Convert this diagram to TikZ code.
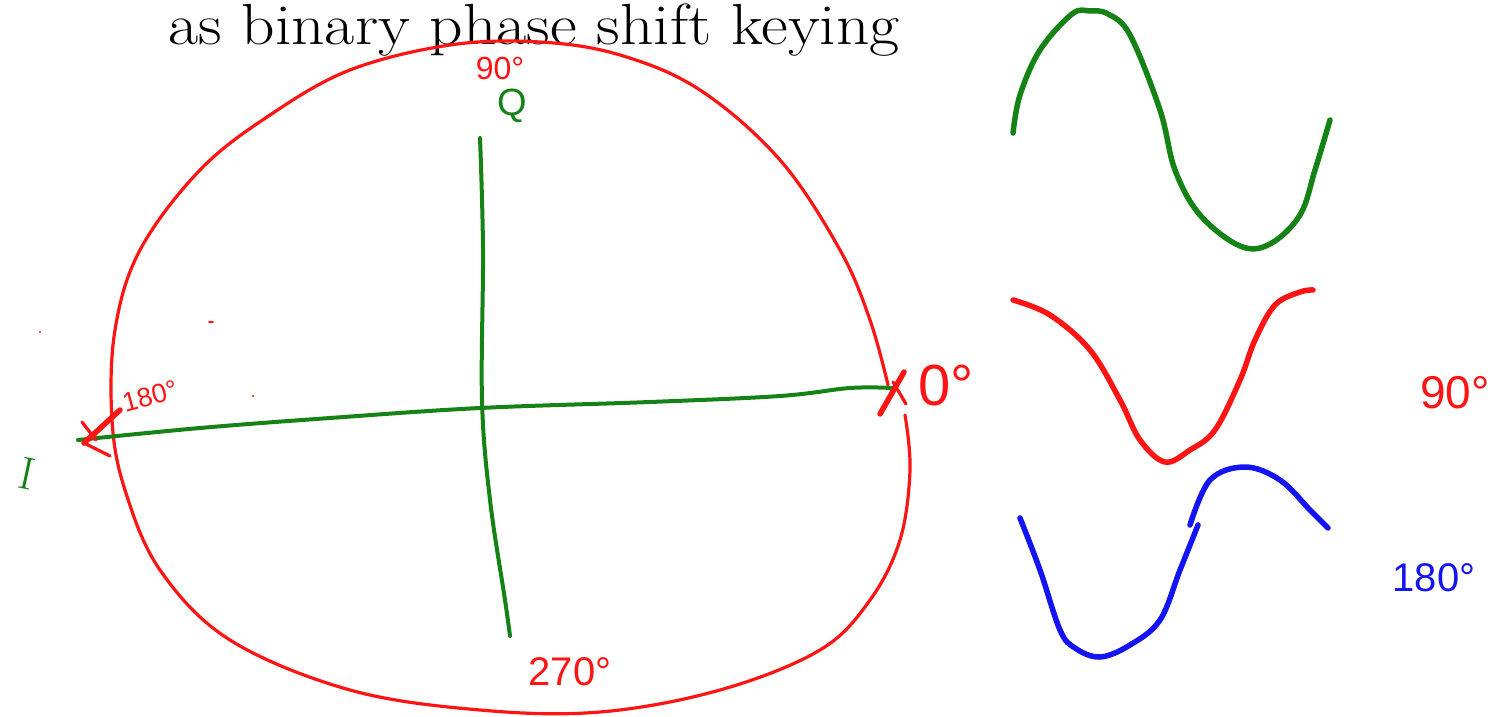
\documentclass[tikz,border=0pt]{standalone}
\usepackage{fontspec}
\newfontfamily\hand{Liberation Sans}
\definecolor{pgreen}{RGB}{20,130,20}
\definecolor{pred}{RGB}{255,20,20}
\definecolor{pblue}{RGB}{20,20,240}
\begin{document}
\begin{tikzpicture}[x=1pt,y=-1pt,
  redline/.style={draw=pred,line width=3.2pt,line cap=round,line join=round},
  axis/.style={draw=pgreen,line width=4pt,line cap=round,line join=round},
  wave/.style={line width=5.5pt,line cap=round,line join=round},
  lbl/.style={font=\hand,inner sep=0pt}]
\useasboundingbox (0,0) rectangle (1497,717);
\node[anchor=base west,inner sep=0pt,xscale=1.13,font=\fontsize{58}{60}\selectfont] (title) at (168,45) {as binary phase shift keying};
% red circle
\draw[redline] plot[smooth,tension=0.6] coordinates {(888,385) (870,320) (840,250) (780,160) (700,90) (620,55) (540,42) (450,45) (350,70) (270,115) (200,170) (140,250) (115,330) (112,420) (125,490) (160,570) (230,640) (350,690) (480,710) (600,712) (720,690) (820,650) (870,600) (900,540) (910,470) (905,415)};
% axes
\coordinate (iend) at (78,440);
\coordinate (oend) at (892,388);
\coordinate (qtop) at (480,138);
\coordinate (qbot) at (510,636);
\draw[axis] plot[smooth,tension=0.6] coordinates {(iend) (200,428) (330,418) (480,408) (650,402) (780,396) (850,388) (oend)};
\draw[axis] plot[smooth,tension=0.6] coordinates {(qtop) (483,250) (482,400) (490,500) (505,600) (qbot)};
% X marks
\draw[redline,line width=5.5pt] (880,414) -- (904,372);
\draw[redline] (893,382) -- (906,404);
\draw[redline,line width=5.5pt] (84,443) -- (120,410);
\draw[redline] (84,443) -- (110,456);
\draw[redline] (82,422) -- (96,440);
% specks
\fill[pred] (40,332) circle (1.2);
\fill[pred] (211,322) ellipse (3 and 1.2);
\fill[pred] (253,396) circle (1.2);
% labels
\node[lbl,text=pred,font=\hand\fontsize{32}{34}\selectfont] (l90top) at (500,68) {90°};
\node[lbl,text=pgreen,font=\hand\fontsize{38}{40}\selectfont] (lq) at (512,106) {Q};
\node[lbl,text=pred,font=\hand\fontsize{58}{60}\selectfont,anchor=west] (l0) at (918,386) {0°};
\node[lbl,text=pred,font=\hand\fontsize{27}{30}\selectfont,rotate=15] (l180l) at (150,396) {180°};
\node[lbl,text=pred,font=\hand\fontsize{40}{42}\selectfont] (l270) at (570,672) {270°};
\node[lbl,text=pgreen,font=\fontsize{46}{48}\selectfont,rotate=-12] (li) at (27,474) {I};
\node[lbl,text=pred,font=\hand\fontsize{46}{48}\selectfont] (l90r) at (1455,393) {90°};
\node[lbl,text=pblue,font=\hand\fontsize{40}{42}\selectfont] (l180r) at (1434,578) {180°};
% waves
\draw[wave,pgreen] plot[smooth,tension=0.6] coordinates {(1013,133) (1020,95) (1040,50) (1072,14) (1090,11) (1108,14) (1130,35) (1160,110) (1175,170) (1200,215) (1240,246) (1270,244) (1300,215) (1315,170) (1330,120)};
\draw[wave,pred] plot[smooth,tension=0.6] coordinates {(1013,300) (1050,315) (1090,350) (1120,400) (1140,440) (1165,462) (1190,450) (1215,430) (1240,380) (1255,340) (1275,305) (1300,292) (1313,290)};
\draw[wave,pblue] plot[smooth,tension=0.6] coordinates {(1020,518) (1040,570) (1060,630) (1075,648) (1100,657) (1130,645) (1160,620) (1180,570) (1198,525)};
\draw[wave,pblue] plot[smooth,tension=0.6] coordinates {(1190,525) (1210,480) (1245,467) (1280,480) (1310,510) (1328,528)};
\end{tikzpicture}
\end{document}
